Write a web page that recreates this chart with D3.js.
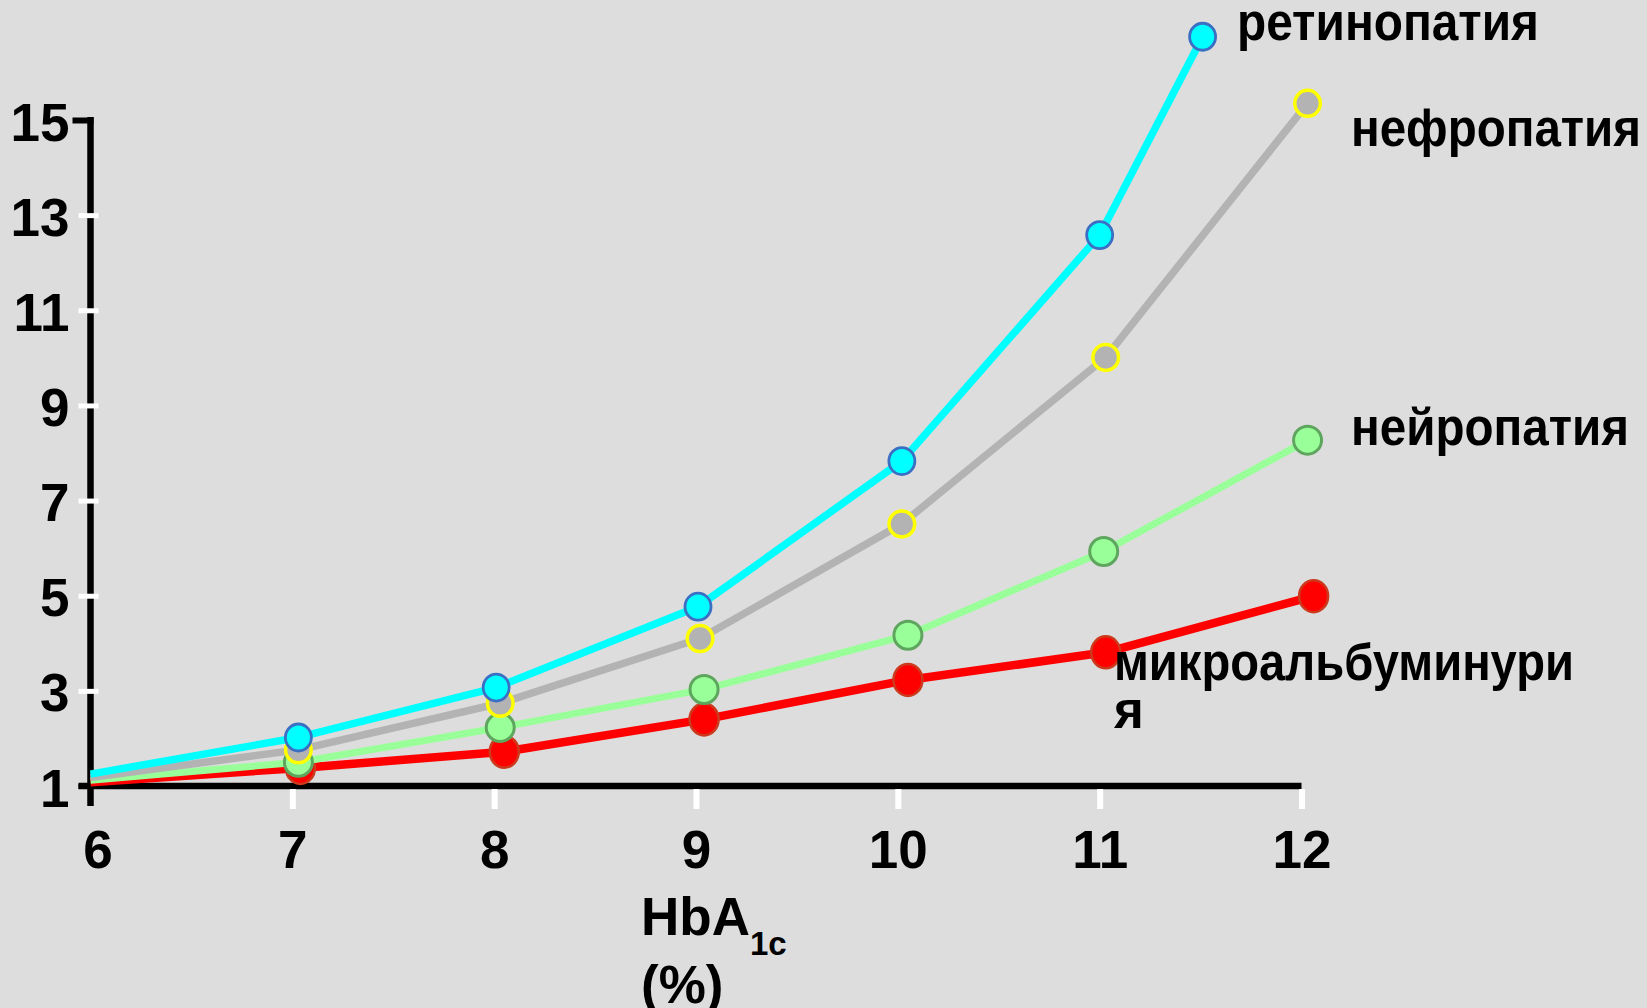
<!DOCTYPE html>
<html>
<head>
<meta charset="utf-8">
<script src="https://cdn.jsdelivr.net/npm/d3@7"></script>
<style>
	body { margin: 0; background: #dddddd; }
	svg { display: block; }
	text { font-family: Arial, "Liberation Sans", sans-serif; font-weight: bold; fill: #000; }
</style>
</head>
<body>
<script>
//tick values
var xTicks = [6, 7, 8, 9, 10, 11, 12],
	yTicks = [1, 3, 5, 7, 9, 11, 13, 15];

//series, drawn bottom to top
var microX = [6, 7.04, 8.05, 9.04, 10.05, 11.03, 12.06],
	microY = [1.08, 1.38, 1.72, 2.40, 3.23, 3.81, 4.99];
var neuroX = [6, 7.03, 8.03, 9.04, 10.05, 11.02, 12.03],
	neuroY = [1.12, 1.50, 2.23, 3.03, 4.17, 5.93, 8.27];
var nephroX = [6, 7.03, 8.03, 9.02, 10.02, 11.03, 12.03],
	nephroY = [1.18, 1.76, 2.74, 4.10, 6.51, 10.01, 15.35];
var retinoX = [6, 7.03, 8.01, 9.01, 10.02, 11.0, 11.51],
	retinoY = [1.25, 2.02, 3.07, 4.77, 7.83, 12.58, 16.75];

var seriesNames = ["микроальбуминурия", "нейропатия", "нефропатия", "ретинопатия"];

var width = 1647,
	height = 1008;

var x = d3.scaleLinear().domain([6, 12]).range([90.5, 1301.5]),
	y = d3.scaleLinear().domain([1, 15]).range([786, 120]);

var svg = d3.select("body").append("svg")
	.attr("width", width)
	.attr("height", height);

svg.append("rect")
	.attr("width", width)
	.attr("height", height)
	.attr("fill", "#dddddd");

//////////////
// axes
//////////////
var x0 = x(6), y0 = y(1);

// axis lines
svg.append("line")
	.attr("x1", x0).attr("x2", x0)
	.attr("y1", y(15) - 3).attr("y2", y0 + 20)
	.attr("stroke", "#000").attr("stroke-width", 6.5);
svg.append("line")
	.attr("x1", x0 - 12).attr("x2", x(12))
	.attr("y1", y0).attr("y2", y0)
	.attr("stroke", "#000").attr("stroke-width", 6.5);

var gY = svg.append("g")
	.attr("class", "axis axis--y")
	.attr("transform", "translate(" + x0 + ",0)")
	.call(d3.axisLeft(y).tickValues(yTicks).tickFormat(d3.format("d")).tickSize(0).tickPadding(21));
gY.select(".domain").remove();
gY.attr("font-size", 53).attr("font-family", null);
gY.selectAll(".tick text").attr("dy", "0.38em");
gY.selectAll(".tick line")
	.attr("x1", function(d) { return d == 15 ? -18 : -12; })
	.attr("x2", function(d) { return d == 15 ? 3 : 8; })
	.attr("stroke", function(d) { return (d == 15 || d == 1) ? "#000" : "#fff"; })
	.attr("stroke-width", function(d) { return d == 15 ? 6 : 5; });

var gX = svg.append("g")
	.attr("class", "axis axis--x")
	.attr("transform", "translate(0," + y0 + ")")
	.call(d3.axisBottom(x).tickValues(xTicks).tickFormat(d3.format("d")).tickSize(0).tickPadding(44));
gX.select(".domain").remove();
gX.attr("font-size", 53).attr("font-family", null);
gX.selectAll(".tick text").attr("dx", function(d) { return d == 6 ? 7 : 0; });
gX.selectAll(".tick line")
	.attr("y1", function(d) { return d == 6 ? 0 : 3; })
	.attr("y2", function(d) { return d == 6 ? 0 : 23; })
	.attr("stroke", "#fff")
	.attr("stroke-width", 6);

// x axis title
var xTitle = svg.append("text")
	.attr("x", 641)
	.attr("y", 935)
	.attr("font-size", 53);
xTitle.append("tspan").text("HbA");
xTitle.append("tspan").attr("font-size", 33).attr("dy", 20).text("1c");
svg.append("text")
	.attr("x", 641)
	.attr("y", 1003)
	.attr("font-size", 53)
	.text("(%)");

//////////////
// series
//////////////
var series = [
	{xs: microX, ys: microY, line: "#ff0000", fill: "#ff0000", edge: "#cc3a1e", lw: 8.5, rx: 14.5, ry: 16, ew: 2.5},
	{xs: neuroX, ys: neuroY, line: "#99ff99", fill: "#99ff99", edge: "#5ea65e", lw: 7, rx: 14, ry: 14, ew: 3},
	{xs: nephroX, ys: nephroY, line: "#b3b3b3", fill: "#b3b3b3", edge: "#ffff00", lw: 7.5, rx: 12.8, ry: 13, ew: 3.5},
	{xs: retinoX, ys: retinoY, line: "#00ffff", fill: "#00ffff", edge: "#3b6fc4", lw: 7.5, rx: 13, ry: 13.5, ew: 2.8}
];

var line = d3.line()
	.x(function(d) { return x(d[0]); })
	.y(function(d) { return y(d[1]); });

series.forEach(function(s) {
	var pts = s.xs.map(function(v, i) { return [v, s.ys[i]]; });
	var g = svg.append("g");
	g.append("path")
		.datum(pts)
		.attr("fill", "none")
		.attr("stroke", s.line)
		.attr("stroke-width", s.lw)
		.attr("stroke-linejoin", "round")
		.attr("d", line);
	// no marker at the origin point
	g.selectAll("ellipse")
		.data(pts.slice(1)).enter()
		.append("ellipse")
		.attr("cx", function(d) { return x(d[0]); })
		.attr("cy", function(d) { return y(d[1]); })
		.attr("rx", s.rx)
		.attr("ry", s.ry)
		.attr("fill", s.fill)
		.attr("stroke", s.edge)
		.attr("stroke-width", s.ew);
});

//////////////
// series labels
//////////////
var labels = [
	{lines: ["микроальбуминури", "я"], len: [460, 0], x: 1114, y: 680},
	{lines: ["нейропатия"], len: [278], x: 1351, y: 445},
	{lines: ["нефропатия"], len: [290], x: 1351, y: 146},
	{lines: ["ретинопатия"], len: [302], x: 1237, y: 40}
];

labels.forEach(function(l) {
	var t = svg.append("text")
		.attr("x", l.x)
		.attr("y", l.y)
		.attr("font-size", 51);
	l.lines.forEach(function(s, i) {
		var ts = t.append("tspan")
			.attr("x", l.x)
			.attr("dy", i == 0 ? 0 : 48)
			.text(s);
		if (l.len[i]) ts.attr("textLength", l.len[i]).attr("lengthAdjust", "spacingAndGlyphs");
	});
});
</script>
</body>
</html>
